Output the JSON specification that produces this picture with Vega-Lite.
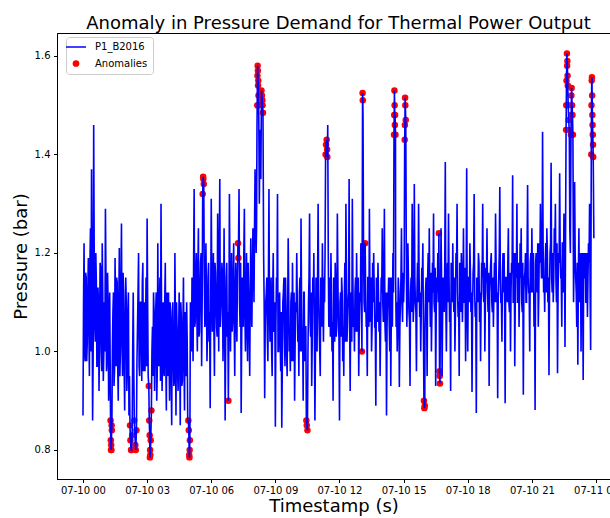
{
  "$schema": "https://vega.github.io/schema/vega-lite/v6.json",
  "width": 553,
  "height": 446,
  "autosize": {"type": "none"},
  "padding": {"left": 57, "top": 33, "right": 0, "bottom": 39},
  "background": "white",
  "config": {
    "font": "DejaVu Sans",
    "view": {"stroke": "black", "strokeWidth": 1},
    "axis": {"grid": false, "labelFont": "DejaVu Sans", "titleFont": "DejaVu Sans", "labelColor": "#000000", "titleColor": "#000000", "tickColor": "#000000", "domainColor": "#000000", "labelFontSize": 10, "titleFontSize": 18, "titleFontWeight": "normal", "tickSize": 3.5, "domainWidth": 1, "tickWidth": 1}
  },
  "title": {"text": "Anomaly in Pressure Demand for Thermal Power Output", "fontSize": 18, "fontWeight": "normal", "font": "DejaVu Sans", "color": "#000000", "anchor": "middle", "frame": "group", "dx": 5, "dy": 22, "baseline": "bottom", "offset": 4},
  "data": {"values": [
    {"h":0.0,"v":0.87},{"h":0.05,"v":1.22},{"h":0.1,"v":0.98},{"h":0.15,"v":1.15},{"h":0.2,"v":1.02},{"h":0.25,"v":1.19},{"h":0.3,"v":0.95},{"h":0.35,"v":1.25},{"h":0.4,"v":1.37},{"h":0.45,"v":0.86},{"h":0.5,"v":1.46},{"h":0.55,"v":1.05},{"h":0.6,"v":1.2},{"h":0.65,"v":0.97},{"h":0.7,"v":1.13},{"h":0.75,"v":0.92},{"h":0.8,"v":1.18},{"h":0.85,"v":1.0},{"h":0.9,"v":1.22},{"h":0.95,"v":0.94},
    {"h":0.025,"v":1.1},{"h":0.075,"v":1.0},{"h":0.125,"v":1.16},{"h":0.175,"v":0.98},{"h":0.225,"v":1.12},{"h":0.275,"v":1.05},{"h":0.325,"v":1.18},{"h":0.375,"v":1.0},{"h":0.425,"v":1.15},{"h":0.475,"v":0.99},{"h":0.525,"v":1.2},{"h":0.575,"v":1.02},{"h":0.625,"v":1.14},{"h":0.675,"v":0.97},{"h":0.725,"v":1.1},{"h":0.775,"v":1.03},{"h":0.825,"v":1.17},{"h":0.875,"v":0.96},{"h":0.925,"v":1.12},{"h":0.975,"v":1.0},
    {"h":1.0,"v":1.1},{"h":1.05,"v":1.29},{"h":1.1,"v":0.96},{"h":1.15,"v":1.16},{"h":1.2,"v":0.9},{"h":1.25,"v":1.12},
    {"h":1.025,"v":1.0},{"h":1.075,"v":1.15},{"h":1.125,"v":0.98},{"h":1.175,"v":1.1},{"h":1.225,"v":0.96},
    {"h":1.29,"v":0.86,"a":1},{"h":1.3,"v":0.82,"a":1},{"h":1.31,"v":0.8,"a":1},{"h":1.32,"v":0.81,"a":1},{"h":1.33,"v":0.8,"a":1},{"h":1.34,"v":0.85,"a":1},{"h":1.35,"v":0.84,"a":1},
    {"h":1.375,"v":1.0},{"h":1.4,"v":1.08},{"h":1.425,"v":1.12},{"h":1.45,"v":0.93},{"h":1.475,"v":0.96},{"h":1.5,"v":1.19},{"h":1.525,"v":1.08},{"h":1.55,"v":0.97},{"h":1.575,"v":1.15},{"h":1.6,"v":1.14},{"h":1.625,"v":0.97},{"h":1.65,"v":0.9},{"h":1.675,"v":1.1},{"h":1.7,"v":1.21},{"h":1.725,"v":0.95},{"h":1.75,"v":1.0},{"h":1.775,"v":1.13},{"h":1.8,"v":1.26},{"h":1.825,"v":1.02},{"h":1.85,"v":0.95},{"h":1.875,"v":1.16},{"h":1.9,"v":1.12},{"h":1.925,"v":0.97},{"h":1.95,"v":0.88},{"h":1.975,"v":1.05},
    {"h":2.0,"v":1.15},{"h":2.025,"v":1.1},{"h":2.05,"v":0.92},{"h":2.075,"v":0.96},{"h":2.1,"v":1.08},{"h":2.125,"v":1.12},{"h":2.15,"v":0.87},{"h":2.175,"v":0.95},
    {"h":2.2,"v":0.85,"a":1},{"h":2.22,"v":0.82,"a":1},{"h":2.25,"v":0.8,"a":1},{"h":2.27,"v":0.8,"a":1},{"h":2.3,"v":0.83,"a":1},
    {"h":2.325,"v":1.0},{"h":2.35,"v":1.12},{"h":2.375,"v":0.97},
    {"h":2.4,"v":0.86,"a":1},{"h":2.45,"v":0.81,"a":1},{"h":2.47,"v":0.8,"a":1},{"h":2.5,"v":0.84,"a":1},
    {"h":2.525,"v":0.98},{"h":2.55,"v":1.05},{"h":2.575,"v":1.12},{"h":2.6,"v":1.2},{"h":2.625,"v":0.97},{"h":2.65,"v":0.95},{"h":2.675,"v":1.1},{"h":2.7,"v":1.1},{"h":2.725,"v":1.02},{"h":2.75,"v":0.94},{"h":2.775,"v":1.14},{"h":2.8,"v":1.18},{"h":2.825,"v":0.96},{"h":2.85,"v":1.0},{"h":2.875,"v":1.1},{"h":2.9,"v":0.96},{"h":2.925,"v":1.04},{"h":2.95,"v":1.15},{"h":2.975,"v":0.97},
    {"h":3.0,"v":1.27},{"h":3.025,"v":1.1},{"h":3.05,"v":0.95},
    {"h":3.08,"v":0.93,"a":1},{"h":3.1,"v":0.86,"a":1},{"h":3.12,"v":0.83,"a":1},{"h":3.13,"v":0.785,"a":1},{"h":3.14,"v":0.8,"a":1},{"h":3.15,"v":0.79,"a":1},{"h":3.17,"v":0.82,"a":1},{"h":3.2,"v":0.88,"a":1},
    {"h":3.225,"v":1.0},{"h":3.25,"v":1.05},{"h":3.275,"v":0.95},{"h":3.3,"v":1.12},{"h":3.325,"v":1.08},{"h":3.35,"v":0.92},{"h":3.375,"v":1.0},{"h":3.4,"v":1.08},{"h":3.425,"v":1.12},{"h":3.45,"v":0.9},{"h":3.475,"v":0.96},{"h":3.5,"v":1.22},{"h":3.525,"v":1.05},{"h":3.55,"v":0.97},{"h":3.575,"v":1.1},{"h":3.6,"v":1.15},{"h":3.625,"v":0.94},{"h":3.65,"v":1.3},{"h":3.675,"v":1.08},{"h":3.7,"v":0.92},{"h":3.725,"v":1.0},{"h":3.75,"v":1.1},{"h":3.775,"v":0.96},{"h":3.8,"v":0.95},{"h":3.825,"v":1.1},{"h":3.85,"v":1.18},{"h":3.875,"v":0.98},{"h":3.9,"v":0.88},{"h":3.925,"v":1.12},{"h":3.95,"v":1.06},{"h":3.975,"v":0.95},
    {"h":4.0,"v":1.12},{"h":4.025,"v":1.0},{"h":4.05,"v":0.9},{"h":4.075,"v":1.1},{"h":4.1,"v":1.08},{"h":4.125,"v":0.95},{"h":4.15,"v":0.85},{"h":4.175,"v":1.06},{"h":4.2,"v":1.1},{"h":4.225,"v":1.0},{"h":4.25,"v":0.93},{"h":4.275,"v":0.94},{"h":4.3,"v":1.2},{"h":4.325,"v":1.05},{"h":4.35,"v":0.87},{"h":4.375,"v":1.1},{"h":4.4,"v":1.05},{"h":4.425,"v":0.96},{"h":4.45,"v":0.92},{"h":4.475,"v":1.03},{"h":4.5,"v":1.12},{"h":4.525,"v":1.0},{"h":4.55,"v":0.85},{"h":4.575,"v":1.1},{"h":4.6,"v":1.07},{"h":4.625,"v":0.93},{"h":4.65,"v":0.94},{"h":4.675,"v":1.05},{"h":4.7,"v":1.15},{"h":4.725,"v":0.98},{"h":4.75,"v":0.88},{"h":4.775,"v":1.08},{"h":4.8,"v":1.0},{"h":4.825,"v":0.95},{"h":4.85,"v":1.1},{"h":4.875,"v":1.02},{"h":4.9,"v":0.86},
    {"h":4.93,"v":0.86,"a":1},{"h":4.95,"v":0.84,"a":1},{"h":4.97,"v":0.79,"a":1},{"h":4.98,"v":0.785,"a":1},{"h":4.99,"v":0.8,"a":1},{"h":5.0,"v":0.82,"a":1},
    {"h":5.025,"v":1.1},{"h":5.05,"v":1.05},{"h":5.075,"v":1.0},{"h":5.1,"v":1.15},{"h":5.125,"v":1.08},{"h":5.15,"v":0.98},{"h":5.175,"v":1.18},{"h":5.2,"v":1.33},{"h":5.225,"v":1.05},{"h":5.25,"v":1.06},{"h":5.275,"v":1.15},{"h":5.3,"v":1.2},{"h":5.325,"v":1.08},{"h":5.35,"v":1.0},{"h":5.375,"v":1.17},{"h":5.4,"v":1.25},{"h":5.425,"v":1.03},{"h":5.45,"v":1.04},{"h":5.475,"v":1.12},{"h":5.5,"v":1.18},{"h":5.525,"v":1.2},{"h":5.55,"v":0.97},{"h":5.575,"v":1.1},
    {"h":5.6,"v":1.32,"a":1},{"h":5.62,"v":1.355,"a":1},{"h":5.63,"v":1.35,"a":1},{"h":5.65,"v":1.34,"a":1},
    {"h":5.675,"v":1.15},{"h":5.7,"v":1.05},{"h":5.725,"v":1.06},{"h":5.75,"v":1.22},{"h":5.775,"v":1.12},{"h":5.8,"v":0.98},{"h":5.825,"v":1.04},{"h":5.85,"v":1.15},{"h":5.875,"v":1.18},{"h":5.9,"v":1.02},{"h":5.925,"v":1.08},{"h":5.95,"v":0.885},{"h":5.975,"v":1.1},
    {"h":6.0,"v":1.31},{"h":6.025,"v":1.15},{"h":6.05,"v":1.04},{"h":6.075,"v":1.08},{"h":6.1,"v":1.2},{"h":6.125,"v":1.05},{"h":6.15,"v":0.95},{"h":6.175,"v":1.18},{"h":6.2,"v":1.16},{"h":6.225,"v":1.1},{"h":6.25,"v":1.05},{"h":6.275,"v":1.03},{"h":6.3,"v":1.28},{"h":6.325,"v":1.15},{"h":6.35,"v":1.0},{"h":6.375,"v":1.2},{"h":6.4,"v":1.35},{"h":6.425,"v":1.05},{"h":6.45,"v":1.08},{"h":6.475,"v":1.12},{"h":6.5,"v":1.18},{"h":6.525,"v":1.15},{"h":6.55,"v":0.98},{"h":6.575,"v":1.06},{"h":6.6,"v":1.25},{"h":6.625,"v":1.1},{"h":6.65,"v":0.86},{"h":6.675,"v":1.02},{"h":6.7,"v":1.15},{"h":6.725,"v":1.18},{"h":6.75,"v":1.03},{"h":6.775,"v":1.08},
    {"h":6.8,"v":0.9,"a":1},
    {"h":6.825,"v":1.05},{"h":6.85,"v":1.32},{"h":6.875,"v":1.15},{"h":6.9,"v":1.0},{"h":6.925,"v":1.1},{"h":6.95,"v":1.2},{"h":6.975,"v":1.04},
    {"h":7.0,"v":1.06},{"h":7.025,"v":1.15},{"h":7.05,"v":1.22},{"h":7.075,"v":1.05},{"h":7.1,"v":0.95},{"h":7.125,"v":1.12},{"h":7.15,"v":1.18},{"h":7.175,"v":1.06},{"h":7.2,"v":1.02},{"h":7.225,"v":1.15},
    {"h":7.25,"v":1.22,"a":1},{"h":7.27,"v":1.19,"a":1},
    {"h":7.3,"v":1.33},{"h":7.325,"v":1.1},{"h":7.35,"v":1.05},{"h":7.375,"v":1.18},{"h":7.4,"v":0.875},{"h":7.425,"v":1.04},{"h":7.45,"v":1.15},{"h":7.475,"v":1.12},{"h":7.5,"v":1.05},{"h":7.525,"v":1.2},{"h":7.55,"v":1.29},{"h":7.575,"v":1.08},{"h":7.6,"v":1.0},{"h":7.625,"v":1.1},{"h":7.65,"v":1.2},{"h":7.675,"v":1.05},{"h":7.7,"v":0.98},{"h":7.725,"v":1.18},{"h":7.75,"v":1.12},{"h":7.775,"v":1.04},{"h":7.8,"v":0.95},{"h":7.825,"v":1.12},{"h":7.85,"v":1.23},{"h":7.875,"v":1.1},{"h":7.9,"v":1.05},{"h":7.925,"v":1.16},{"h":7.95,"v":1.25},{"h":7.975,"v":1.2},
    {"h":8.0,"v":1.1},{"h":8.025,"v":1.25},{"h":8.05,"v":1.37},{"h":8.075,"v":1.3},{"h":8.1,"v":1.2},{"h":8.12,"v":1.25},{"h":8.14,"v":1.45},
    {"h":8.15,"v":1.5,"a":1},{"h":8.16,"v":1.56,"a":1},{"h":8.17,"v":1.58,"a":1},{"h":8.18,"v":1.57,"a":1},{"h":8.19,"v":1.54,"a":1},{"h":8.2,"v":1.55,"a":1},{"h":8.21,"v":1.52,"a":1},{"h":8.22,"v":1.5,"a":1},
    {"h":8.25,"v":1.3},{"h":8.27,"v":1.4},{"h":8.3,"v":1.45},{"h":8.32,"v":1.35},
    {"h":8.35,"v":1.53,"a":1},{"h":8.37,"v":1.52,"a":1},{"h":8.39,"v":1.51,"a":1},{"h":8.4,"v":1.5,"a":1},{"h":8.42,"v":1.485,"a":1},
    {"h":8.45,"v":1.2},{"h":8.475,"v":1.1},{"h":8.5,"v":0.905},{"h":8.525,"v":1.05},{"h":8.55,"v":1.1},{"h":8.575,"v":1.12},{"h":8.6,"v":1.15},{"h":8.625,"v":1.03},{"h":8.65,"v":0.98},{"h":8.675,"v":1.15},{"h":8.7,"v":1.33},{"h":8.725,"v":1.08},{"h":8.75,"v":1.02},{"h":8.775,"v":1.1},{"h":8.8,"v":1.15},{"h":8.825,"v":1.0},{"h":8.85,"v":0.95},{"h":8.875,"v":1.12},{"h":8.9,"v":1.2},{"h":8.925,"v":1.04},{"h":8.95,"v":1.05},{"h":8.975,"v":1.1},
    {"h":9.0,"v":0.847},{"h":9.025,"v":1.05},{"h":9.05,"v":1.15},{"h":9.075,"v":1.12},{"h":9.1,"v":1.32},{"h":9.125,"v":1.0},{"h":9.15,"v":1.0},{"h":9.175,"v":1.1},{"h":9.2,"v":1.12},{"h":9.225,"v":1.02},{"h":9.25,"v":0.96},{"h":9.275,"v":1.08},{"h":9.3,"v":0.845},{"h":9.325,"v":0.97},{"h":9.35,"v":1.1},{"h":9.375,"v":1.12},{"h":9.4,"v":1.15},{"h":9.425,"v":1.03},{"h":9.45,"v":0.97},{"h":9.475,"v":1.15},{"h":9.5,"v":1.08},{"h":9.525,"v":1.0},{"h":9.55,"v":0.95},{"h":9.575,"v":1.08},{"h":9.6,"v":1.23},{"h":9.625,"v":1.12},{"h":9.65,"v":1.0},{"h":9.675,"v":1.03},{"h":9.7,"v":0.96},{"h":9.725,"v":1.1},{"h":9.75,"v":1.12},{"h":9.775,"v":0.98},{"h":9.8,"v":1.18},{"h":9.825,"v":1.07},{"h":9.85,"v":0.98},{"h":9.875,"v":1.12},{"h":9.9,"v":0.9},{"h":9.925,"v":1.02},{"h":9.95,"v":1.1},{"h":9.975,"v":1.08},
    {"h":10.0,"v":1.2},{"h":10.025,"v":1.1},{"h":10.05,"v":1.02},{"h":10.075,"v":1.05},{"h":10.1,"v":0.95},{"h":10.125,"v":1.12},{"h":10.15,"v":1.15},{"h":10.175,"v":1.0},{"h":10.2,"v":1.27},{"h":10.225,"v":1.1},{"h":10.25,"v":1.0},{"h":10.275,"v":1.05},{"h":10.3,"v":0.9},{"h":10.325,"v":1.12},{"h":10.35,"v":1.12},{"h":10.375,"v":0.98},{"h":10.4,"v":1.05},{"h":10.425,"v":1.05},
    {"h":10.45,"v":0.86,"a":1},{"h":10.47,"v":0.85,"a":1},{"h":10.5,"v":0.84,"a":1},
    {"h":10.525,"v":1.0},{"h":10.55,"v":1.1},{"h":10.575,"v":1.15},{"h":10.6,"v":1.28},{"h":10.625,"v":1.06},{"h":10.65,"v":1.03},{"h":10.675,"v":1.12},{"h":10.7,"v":0.93},{"h":10.725,"v":1.02},{"h":10.75,"v":1.15},{"h":10.775,"v":1.1},{"h":10.8,"v":1.2},{"h":10.825,"v":1.05},{"h":10.85,"v":0.86},{"h":10.875,"v":1.0},{"h":10.9,"v":1.15},{"h":10.925,"v":1.1},{"h":10.95,"v":1.0},{"h":10.975,"v":1.15},
    {"h":11.0,"v":1.3},{"h":11.025,"v":1.12},{"h":11.05,"v":1.05},{"h":11.075,"v":1.0},{"h":11.1,"v":0.95},{"h":11.125,"v":1.15},{"h":11.15,"v":1.12},{"h":11.175,"v":1.05},{"h":11.2,"v":1.22},{"h":11.225,"v":1.1},{"h":11.25,"v":1.02},{"h":11.275,"v":1.15},{"h":11.3,"v":1.1},{"h":11.325,"v":1.2},
    {"h":11.35,"v":1.4,"a":1},{"h":11.37,"v":1.42,"a":1},{"h":11.4,"v":1.43,"a":1},{"h":11.42,"v":1.41,"a":1},{"h":11.43,"v":1.395,"a":1},
    {"h":11.45,"v":1.46},{"h":11.475,"v":1.2},{"h":11.5,"v":1.05},{"h":11.525,"v":1.12},{"h":11.55,"v":1.15},{"h":11.575,"v":1.03},{"h":11.6,"v":1.2},{"h":11.625,"v":1.1},{"h":11.65,"v":1.0},{"h":11.675,"v":1.06},{"h":11.7,"v":0.9},{"h":11.725,"v":1.15},{"h":11.75,"v":1.1},{"h":11.775,"v":1.02},{"h":11.8,"v":1.18},{"h":11.825,"v":1.12},{"h":11.85,"v":1.03},{"h":11.875,"v":1.08},{"h":11.9,"v":1.28},{"h":11.925,"v":1.15},{"h":11.95,"v":1.05},{"h":11.975,"v":1.03},
    {"h":12.0,"v":0.86},{"h":12.025,"v":1.1},{"h":12.05,"v":1.12},{"h":12.075,"v":1.03},{"h":12.1,"v":1.15},{"h":12.125,"v":1.12},{"h":12.15,"v":0.98},{"h":12.175,"v":1.05},{"h":12.2,"v":0.95},{"h":12.225,"v":1.1},{"h":12.25,"v":1.18},{"h":12.275,"v":1.02},{"h":12.3,"v":1.3},{"h":12.325,"v":1.15},{"h":12.35,"v":1.02},{"h":12.375,"v":1.06},{"h":12.4,"v":1.1},{"h":12.425,"v":1.12},{"h":12.45,"v":1.35},{"h":12.475,"v":1.05},{"h":12.5,"v":0.92},{"h":12.525,"v":1.1},{"h":12.55,"v":1.12},{"h":12.575,"v":1.02},{"h":12.6,"v":1.31},{"h":12.625,"v":1.15},{"h":12.65,"v":1.05},{"h":12.675,"v":1.08},{"h":12.7,"v":1.0},{"h":12.725,"v":1.12},{"h":12.75,"v":1.15},{"h":12.775,"v":1.04},{"h":12.8,"v":1.2},{"h":12.825,"v":1.1},{"h":12.85,"v":1.04},{"h":12.875,"v":1.15},{"h":12.9,"v":0.95},{"h":12.925,"v":1.05},{"h":12.95,"v":1.12},{"h":12.975,"v":1.1},
    {"h":13.0,"v":1.22},{"h":13.025,"v":1.1},
    {"h":13.05,"v":1.0,"a":1},{"h":13.08,"v":1.525,"a":1},{"h":13.09,"v":1.51,"a":1},
    {"h":13.1,"v":1.48},{"h":13.125,"v":1.2},{"h":13.15,"v":1.1},{"h":13.175,"v":1.08},
    {"h":13.2,"v":1.22,"a":1},
    {"h":13.225,"v":1.12},{"h":13.25,"v":1.05},{"h":13.275,"v":1.06},{"h":13.3,"v":0.95},{"h":13.325,"v":1.15},{"h":13.35,"v":1.15},{"h":13.375,"v":1.05},{"h":13.4,"v":1.29},{"h":13.425,"v":1.12},{"h":13.45,"v":1.06},{"h":13.475,"v":1.15},{"h":13.5,"v":1.0},{"h":13.525,"v":1.05},{"h":13.55,"v":1.18},{"h":13.575,"v":1.1},{"h":13.6,"v":1.2},{"h":13.625,"v":1.12},{"h":13.65,"v":1.05},{"h":13.675,"v":1.05},{"h":13.7,"v":0.89},{"h":13.725,"v":1.15},{"h":13.75,"v":1.12},{"h":13.775,"v":1.06},{"h":13.8,"v":1.18},{"h":13.825,"v":1.12},{"h":13.85,"v":1.04},{"h":13.875,"v":1.1},{"h":13.9,"v":0.95},{"h":13.925,"v":1.05},{"h":13.95,"v":1.15},{"h":13.975,"v":1.12},
    {"h":14.0,"v":1.25},{"h":14.025,"v":1.1},{"h":14.05,"v":1.06},{"h":14.075,"v":1.15},{"h":14.1,"v":1.29},{"h":14.125,"v":1.06},{"h":14.15,"v":1.02},{"h":14.175,"v":1.12},{"h":14.2,"v":0.87},{"h":14.225,"v":1.05},{"h":14.25,"v":1.12},{"h":14.275,"v":1.1},{"h":14.3,"v":1.15},{"h":14.325,"v":1.06},{"h":14.35,"v":1.0},{"h":14.375,"v":1.15},{"h":14.4,"v":0.93},{"h":14.425,"v":1.08},{"h":14.45,"v":1.15},{"h":14.475,"v":1.05},{"h":14.5,"v":1.2},{"h":14.525,"v":1.12},
    {"h":14.55,"v":1.44,"a":1},{"h":14.56,"v":1.48,"a":1},{"h":14.57,"v":1.53,"a":1},{"h":14.58,"v":1.5,"a":1},{"h":14.59,"v":1.46,"a":1},{"h":14.6,"v":1.48,"a":1},{"h":14.62,"v":1.44,"a":1},
    {"h":14.625,"v":1.15},{"h":14.65,"v":1.05},{"h":14.675,"v":1.1},{"h":14.7,"v":1.0},{"h":14.725,"v":1.06},{"h":14.75,"v":1.15},{"h":14.775,"v":1.12},{"h":14.8,"v":0.928},{"h":14.825,"v":1.05},{"h":14.85,"v":1.1},{"h":14.875,"v":1.15},{"h":14.9,"v":1.25},{"h":14.925,"v":1.1},{"h":14.95,"v":1.06},{"h":14.975,"v":1.16},
    {"h":15.0,"v":1.1},{"h":15.025,"v":1.15},
    {"h":15.05,"v":1.43,"a":1},{"h":15.06,"v":1.46,"a":1},{"h":15.07,"v":1.515,"a":1},{"h":15.08,"v":1.5,"a":1},{"h":15.1,"v":1.47,"a":1},
    {"h":15.125,"v":1.2},{"h":15.15,"v":1.05},{"h":15.175,"v":1.1},{"h":15.2,"v":1.22},{"h":15.225,"v":1.15},{"h":15.25,"v":1.08},{"h":15.275,"v":1.06},{"h":15.3,"v":0.93},{"h":15.325,"v":1.12},{"h":15.35,"v":1.15},{"h":15.375,"v":1.08},{"h":15.4,"v":1.3},{"h":15.425,"v":1.18},{"h":15.45,"v":1.06},{"h":15.475,"v":1.1},{"h":15.5,"v":1.34},{"h":15.525,"v":1.15},{"h":15.55,"v":1.1},{"h":15.575,"v":1.08},{"h":15.6,"v":0.96},{"h":15.625,"v":1.12},{"h":15.65,"v":1.18},{"h":15.675,"v":1.1},{"h":15.7,"v":1.3},{"h":15.725,"v":1.15},{"h":15.75,"v":1.07},{"h":15.775,"v":1.12},{"h":15.8,"v":1.0},{"h":15.825,"v":1.08},{"h":15.85,"v":1.17},{"h":15.875,"v":1.15},{"h":15.9,"v":1.22},{"h":15.925,"v":1.05},
    {"h":15.95,"v":0.9,"a":1},{"h":15.97,"v":0.885,"a":1},{"h":15.99,"v":0.89,"a":1},
    {"h":16.0,"v":1.05},{"h":16.025,"v":1.12},{"h":16.05,"v":1.15},{"h":16.075,"v":1.08},{"h":16.1,"v":0.95},{"h":16.125,"v":1.15},{"h":16.15,"v":1.2},{"h":16.175,"v":1.1},{"h":16.2,"v":1.25},{"h":16.225,"v":1.12},{"h":16.25,"v":1.05},{"h":16.275,"v":1.16},{"h":16.3,"v":1.0},{"h":16.325,"v":1.08},{"h":16.35,"v":1.18},{"h":16.375,"v":1.12},{"h":16.4,"v":1.28},{"h":16.425,"v":1.1},{"h":16.45,"v":1.08},{"h":16.475,"v":1.17},{"h":16.5,"v":0.93},{"h":16.525,"v":1.08},{"h":16.55,"v":1.15},{"h":16.575,"v":1.12},{"h":16.6,"v":1.2},{"h":16.625,"v":1.1},
    {"h":16.65,"v":1.24,"a":1},{"h":16.68,"v":0.96,"a":1},{"h":16.69,"v":0.95,"a":1},{"h":16.7,"v":0.935,"a":1},
    {"h":16.725,"v":1.1},{"h":16.75,"v":1.25},{"h":16.775,"v":1.15},{"h":16.8,"v":0.95},{"h":16.825,"v":1.08},{"h":16.85,"v":1.15},{"h":16.875,"v":1.12},{"h":16.9,"v":1.08},{"h":16.925,"v":1.18},{"h":16.95,"v":1.385},{"h":16.975,"v":1.1},
    {"h":17.0,"v":1.0},{"h":17.025,"v":1.12},{"h":17.05,"v":1.18},{"h":17.075,"v":1.1},{"h":17.1,"v":1.28},{"h":17.125,"v":1.15},{"h":17.15,"v":1.06},{"h":17.175,"v":1.08},{"h":17.2,"v":0.92},{"h":17.225,"v":1.18},{"h":17.25,"v":1.15},{"h":17.275,"v":1.1},{"h":17.3,"v":1.22},{"h":17.325,"v":1.12},{"h":17.35,"v":1.08},{"h":17.375,"v":1.15},{"h":17.4,"v":1.0},{"h":17.425,"v":1.08},{"h":17.45,"v":1.2},{"h":17.475,"v":1.15},{"h":17.5,"v":1.3},{"h":17.525,"v":1.12},{"h":17.55,"v":1.07},{"h":17.575,"v":1.1},{"h":17.6,"v":0.95},{"h":17.625,"v":1.18},{"h":17.65,"v":1.17},{"h":17.675,"v":1.08},{"h":17.7,"v":1.2},{"h":17.725,"v":1.15},{"h":17.75,"v":1.06},{"h":17.775,"v":1.12},{"h":17.8,"v":1.25},{"h":17.825,"v":1.1},{"h":17.85,"v":1.1},{"h":17.875,"v":1.17},{"h":17.9,"v":0.98},{"h":17.925,"v":1.12},{"h":17.95,"v":1.372},{"h":17.975,"v":1.1},
    {"h":18.0,"v":1.0},{"h":18.025,"v":1.15},{"h":18.05,"v":1.15},{"h":18.075,"v":1.1},{"h":18.1,"v":1.22},{"h":18.125,"v":1.16},{"h":18.15,"v":1.08},{"h":18.175,"v":1.12},{"h":18.2,"v":0.918},{"h":18.225,"v":1.08},{"h":18.25,"v":1.16},{"h":18.275,"v":1.18},{"h":18.3,"v":1.32},{"h":18.325,"v":1.12},{"h":18.35,"v":1.07},{"h":18.375,"v":1.1},{"h":18.4,"v":0.875},{"h":18.425,"v":1.15},{"h":18.45,"v":1.12},{"h":18.475,"v":1.1},{"h":18.5,"v":1.2},{"h":18.525,"v":1.18},{"h":18.55,"v":1.06},{"h":18.575,"v":1.12},{"h":18.6,"v":0.98},{"h":18.625,"v":1.1},{"h":18.65,"v":1.18},{"h":18.675,"v":1.15},{"h":18.7,"v":1.3},{"h":18.725,"v":1.12},{"h":18.75,"v":1.1},{"h":18.775,"v":1.18},{"h":18.8,"v":1.0},{"h":18.825,"v":1.1},{"h":18.85,"v":1.17},{"h":18.875,"v":1.14},{"h":18.9,"v":1.25},{"h":18.925,"v":1.12},{"h":18.95,"v":1.08},{"h":18.975,"v":1.16},
    {"h":19.0,"v":0.93},{"h":19.025,"v":1.12},{"h":19.05,"v":1.15},{"h":19.075,"v":1.18},{"h":19.1,"v":1.2},{"h":19.125,"v":1.1},{"h":19.15,"v":1.08},{"h":19.175,"v":1.15},{"h":19.2,"v":1.05},{"h":19.225,"v":1.12},{"h":19.25,"v":1.18},{"h":19.275,"v":1.1},{"h":19.3,"v":1.28},{"h":19.325,"v":1.18},{"h":19.35,"v":1.1},{"h":19.375,"v":1.12},{"h":19.4,"v":0.905},{"h":19.425,"v":1.1},{"h":19.45,"v":1.15},{"h":19.475,"v":1.2},{"h":19.5,"v":1.334},{"h":19.525,"v":1.15},{"h":19.55,"v":1.1},{"h":19.575,"v":1.1},{"h":19.6,"v":1.02},{"h":19.625,"v":1.16},{"h":19.65,"v":1.2},{"h":19.675,"v":1.12},{"h":19.7,"v":1.2},{"h":19.725,"v":1.1},{"h":19.75,"v":0.895},{"h":19.775,"v":1.15},{"h":19.8,"v":1.15},{"h":19.825,"v":1.12},{"h":19.85,"v":1.1},{"h":19.875,"v":1.18},{"h":19.9,"v":1.25},{"h":19.925,"v":1.1},{"h":19.95,"v":1.08},{"h":19.975,"v":1.16},
    {"h":20.0,"v":1.0},{"h":20.025,"v":1.12},{"h":20.05,"v":1.18},{"h":20.075,"v":1.16},{"h":20.1,"v":1.358},{"h":20.125,"v":1.1},{"h":20.15,"v":1.1},{"h":20.175,"v":1.2},{"h":20.2,"v":0.97},{"h":20.225,"v":1.12},{"h":20.25,"v":1.2},{"h":20.275,"v":1.15},{"h":20.3,"v":1.3},{"h":20.325,"v":1.1},{"h":20.35,"v":1.1},{"h":20.375,"v":1.18},{"h":20.4,"v":1.05},{"h":20.425,"v":1.12},{"h":20.45,"v":1.22},{"h":20.475,"v":1.15},{"h":20.5,"v":1.25},{"h":20.525,"v":1.1},{"h":20.55,"v":1.08},{"h":20.575,"v":1.18},{"h":20.6,"v":0.912},{"h":20.625,"v":1.12},{"h":20.65,"v":1.15},{"h":20.675,"v":1.16},{"h":20.7,"v":1.2},{"h":20.725,"v":1.1},{"h":20.75,"v":1.1},{"h":20.775,"v":1.2},{"h":20.8,"v":1.338},{"h":20.825,"v":1.15},{"h":20.85,"v":1.12},{"h":20.875,"v":1.12},{"h":20.9,"v":1.0},{"h":20.925,"v":1.18},{"h":20.95,"v":1.2},{"h":20.975,"v":1.12},
    {"h":21.0,"v":1.25},{"h":21.025,"v":1.15},{"h":21.05,"v":1.12},{"h":21.075,"v":1.2},{"h":21.1,"v":1.05},{"h":21.125,"v":1.12},{"h":21.15,"v":0.881},{"h":21.175,"v":1.18},{"h":21.2,"v":1.2},{"h":21.225,"v":1.15},{"h":21.25,"v":1.12},{"h":21.275,"v":1.22},{"h":21.3,"v":1.05},{"h":21.325,"v":1.12},{"h":21.35,"v":1.22},{"h":21.375,"v":1.18},{"h":21.4,"v":1.3},{"h":21.425,"v":1.2},{"h":21.45,"v":1.15},{"h":21.475,"v":1.15},{"h":21.5,"v":1.446},{"h":21.525,"v":1.22},{"h":21.55,"v":1.12},{"h":21.575,"v":1.15},{"h":21.6,"v":1.08},{"h":21.625,"v":1.18},{"h":21.65,"v":1.22},{"h":21.675,"v":1.12},{"h":21.7,"v":1.25},{"h":21.725,"v":1.2},{"h":21.75,"v":1.1},{"h":21.775,"v":1.15},{"h":21.8,"v":0.952},{"h":21.825,"v":1.12},{"h":21.85,"v":1.2},{"h":21.875,"v":1.22},{"h":21.9,"v":1.383},{"h":21.925,"v":1.15},{"h":21.95,"v":1.12},{"h":21.975,"v":1.2},
    {"h":22.0,"v":1.1},{"h":22.025,"v":1.15},{"h":22.05,"v":1.25},{"h":22.075,"v":1.2},{"h":22.1,"v":1.3},{"h":22.125,"v":1.15},{"h":22.15,"v":1.1},{"h":22.175,"v":1.22},{"h":22.2,"v":0.956},{"h":22.225,"v":1.12},{"h":22.25,"v":1.2},{"h":22.275,"v":1.18},{"h":22.3,"v":1.362},{"h":22.325,"v":1.2},{"h":22.35,"v":1.15},{"h":22.375,"v":1.15},{"h":22.4,"v":1.05},{"h":22.425,"v":1.22},{"h":22.45,"v":1.22},{"h":22.475,"v":1.12},{"h":22.5,"v":1.28},{"h":22.525,"v":1.2},{"h":22.55,"v":1.009},
    {"h":22.6,"v":1.45,"a":1},{"h":22.61,"v":1.5,"a":1},{"h":22.62,"v":1.55,"a":1},{"h":22.64,"v":1.605,"a":1},{"h":22.65,"v":1.58,"a":1},{"h":22.66,"v":1.59,"a":1},{"h":22.67,"v":1.56,"a":1},{"h":22.68,"v":1.54,"a":1},{"h":22.7,"v":1.5,"a":1},{"h":22.72,"v":1.47,"a":1},{"h":22.75,"v":1.45,"a":1},
    {"h":22.775,"v":1.25},{"h":22.8,"v":1.2},
    {"h":22.83,"v":1.44,"a":1},{"h":22.84,"v":1.48,"a":1},{"h":22.85,"v":1.52,"a":1},{"h":22.86,"v":1.535,"a":1},{"h":22.88,"v":1.5,"a":1},{"h":22.9,"v":1.48,"a":1},{"h":22.92,"v":1.44,"a":1},
    {"h":22.95,"v":1.1},{"h":22.975,"v":1.18},
    {"h":23.0,"v":1.344},{"h":23.025,"v":1.2},{"h":23.05,"v":1.15},{"h":23.075,"v":1.12},{"h":23.1,"v":1.05},{"h":23.125,"v":1.18},{"h":23.15,"v":0.973},{"h":23.175,"v":1.15},{"h":23.2,"v":1.25},{"h":23.225,"v":1.1},{"h":23.25,"v":1.12},{"h":23.275,"v":1.2},{"h":23.3,"v":1.0},{"h":23.325,"v":1.15},{"h":23.35,"v":1.2},{"h":23.375,"v":1.12},{"h":23.4,"v":0.942},{"h":23.425,"v":1.2},{"h":23.45,"v":1.15},{"h":23.475,"v":1.15},{"h":23.5,"v":1.2},{"h":23.525,"v":1.1},{"h":23.55,"v":1.1},{"h":23.575,"v":1.2},{"h":23.6,"v":1.07},{"h":23.625,"v":1.15},{"h":23.65,"v":1.22},{"h":23.675,"v":1.18},{"h":23.7,"v":1.3},{"h":23.725,"v":1.12},{"h":23.75,"v":1.003},
    {"h":23.78,"v":1.4,"a":1},{"h":23.79,"v":1.5,"a":1},{"h":23.8,"v":1.55,"a":1},{"h":23.81,"v":1.557,"a":1},{"h":23.82,"v":1.52,"a":1},{"h":23.83,"v":1.48,"a":1},{"h":23.84,"v":1.46,"a":1},{"h":23.85,"v":1.44,"a":1},{"h":23.86,"v":1.42,"a":1},{"h":23.87,"v":1.395,"a":1},
    {"h":23.9,"v":1.23}
  ]},
  "encoding": {
    "x": {"field": "h", "type": "quantitative", "scale": {"domain": [-1.216, 24.655], "nice": false, "zero": false},
      "axis": {"title": "Timestamp (s)", "values": [0,3,6,9,12,15,18,21,24], "labelExpr": "datum.value >= 24 ? '07-11 00' : '07-10 ' + (datum.value < 10 ? '0' : '') + datum.value", "labelPadding": 3, "titlePadding": 2}},
    "y": {"field": "v", "type": "quantitative", "scale": {"domain": [0.7411, 1.6467], "nice": false, "zero": false},
      "axis": {"title": "Pressure (bar)", "values": [0.8,1.0,1.2,1.4,1.6], "format": ".1f", "labelPadding": 3.5, "titlePadding": 4}}
  },
  "layer": [
    {
      "transform": [{"filter": "datum.a == 1"}],
      "mark": {"type": "point", "filled": true, "size": 42, "opacity": 1},
      "encoding": {"color": {"datum": "Anomalies"}}
    },
    {
      "mark": {"type": "line", "strokeWidth": 1.6},
      "encoding": {"color": {"datum": "P1_B2016", "scale": {"domain": ["P1_B2016", "Anomalies"], "range": ["#0000ff", "#ff0000"]},
        "legend": {"title": null, "orient": "none", "legendX": 9, "legendY": 4, "padding": 5, "fillColor": "#ffffff", "strokeColor": "#cccccc", "cornerRadius": 3, "labelFontSize": 10, "labelFont": "DejaVu Sans", "labelColor": "#000000", "labelOffset": 14, "rowPadding": 6.5,
          "encode": {"symbols": {"update": {
            "shape": {"signal": "datum.value === 'P1_B2016' ? 'stroke' : 'circle'"},
            "size": {"signal": "datum.value === 'P1_B2016' ? 400 : 45"},
            "strokeWidth": {"signal": "datum.value === 'P1_B2016' ? 1.5 : 0"},
            "fill": {"signal": "datum.value === 'P1_B2016' ? 'transparent' : '#ff0000'"},
            "stroke": {"signal": "datum.value === 'P1_B2016' ? '#0000ff' : 'transparent'"},
            "opacity": {"value": 1}
          }}}}}}
    }
  ]
}
